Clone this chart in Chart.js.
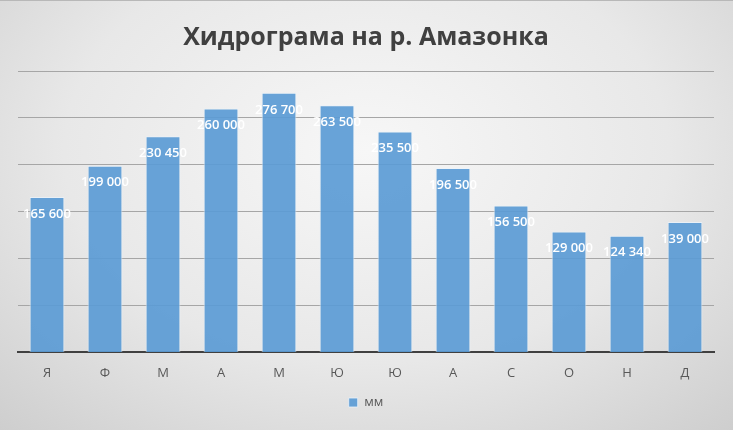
<!DOCTYPE html>
<html>
<head>
<meta charset="utf-8">
<script src="https://cdn.jsdelivr.net/npm/chart.js@4/dist/chart.umd.min.js"></script>
<style>
  html, body { margin: 0; padding: 0; }
  #wrap {
    width: 733px; height: 430px; box-sizing: border-box;
    border-top: 1px solid #b8b8b8;
    background: radial-gradient(ellipse 75% 90% at 50% 35%, #f7f7f7 0%, #e8e8e8 55%, #cdcdcd 100%);
  }
</style>
</head>
<body>
<div id="wrap"><canvas id="chart" width="733" height="429"></canvas></div>
<script>
const months = ['Я', 'Ф', 'М', 'А', 'М', 'Ю', 'Ю', 'А', 'С', 'О', 'Н', 'Д'];
const mm = [165600, 199000, 230450, 260000, 276700, 263500, 235500, 196500, 156500, 129000, 124340, 139000];
const valueLabels = ['165 600', '199 000', '230 450', '260 000', '276 700', '263 500', '235 500', '196 500', '156 500', '129 000', '124 340', '139 000'];

// white value labels just under the top of each bar
const barLabels = {
    id: 'barLabels',
    afterDatasetsDraw(chart) {
        const ctx = chart.ctx;
        const meta = chart.getDatasetMeta(0);
        ctx.save();
        ctx.font = '600 13px "Open Sans"';
        ctx.fillStyle = '#ffffff';
        ctx.textAlign = 'center';
        ctx.textBaseline = 'middle';
        meta.data.forEach(function (bar, i) {
            ctx.fillText(valueLabels[i], bar.x, bar.y + 17);
        });
        ctx.restore();
    }
};

new Chart(document.getElementById('chart'), {
    type: 'bar',
    data: {
        labels: months,
        datasets: [{
            label: 'мм',
            data: mm,
            backgroundColor: 'rgba(91,155,213,0.92)',
            borderColor: 'rgba(235,242,250,0.8)',
            borderWidth: 1,
            barPercentage: 0.6,
            categoryPercentage: 1
        }]
    },
    options: {
        responsive: false,
        animation: false,
        layout: { padding: { left: 18, right: 19, top: 0, bottom: 11 } },
        scales: {
            x: {
                grid: { display: false },
                border: { display: true, color: '#404040', width: 2 },
                ticks: { color: '#595959', font: { family: 'Open Sans', size: 13 }, padding: 5 }
            },
            y: {
                min: 0,
                max: 300000,
                ticks: { display: false, stepSize: 50000 },
                border: { display: false },
                grid: { color: '#a6a6a6', drawTicks: false }
            }
        },
        plugins: {
            title: {
                display: true,
                text: 'Хидрограма на р. Амазонка',
                color: '#404040',
                font: { family: 'Open Sans', size: 25, weight: 'bold' },
                padding: { top: 22, bottom: 18 }
            },
            legend: {
                position: 'bottom',
                labels: {
                    color: '#595959',
                    font: { family: 'Open Sans', size: 13 },
                    boxWidth: 9,
                    boxHeight: 9,
                    padding: 10
                }
            },
            tooltip: { enabled: false }
        }
    },
    plugins: [barLabels]
});
</script>
</body>
</html>
